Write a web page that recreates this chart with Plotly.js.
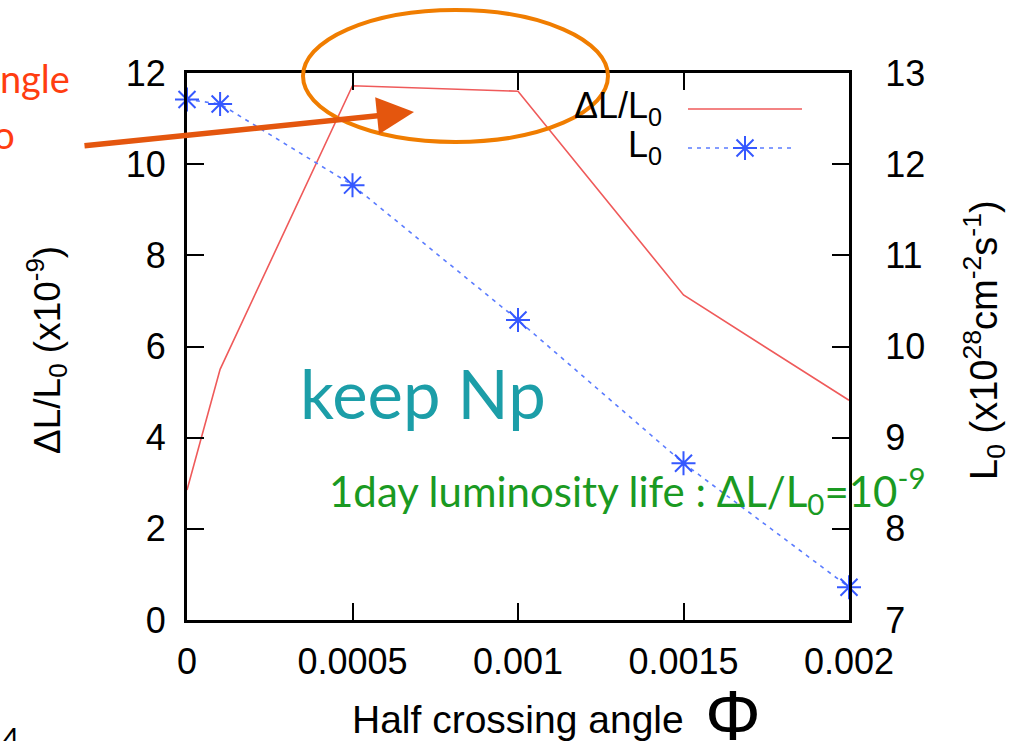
<!DOCTYPE html>
<html>
<head>
<meta charset="utf-8">
<script src="https://cdn.plot.ly/plotly-3.0.1.min.js"></script>
<style>
  html, body { margin: 0; padding: 0; background: #fff; }
  #chart { width: 1026px; height: 741px; }
</style>
</head>
<body>
<div id="chart"></div>
<script>
// Half crossing angle (rad)
const phi = [0, 0.0001, 0.0005, 0.001, 0.0015, 0.002];
// Luminosity loss per turn, ΔL/L0 (x1e-9)
const dLoverL0 = [2.85, 5.5, 11.72, 11.6, 7.13, 4.82];
// Luminosity L0 (x1e28 cm^-2 s^-1)
const L0 = [12.71, 12.66, 11.77, 10.29, 8.72, 7.36];

const xTickVals = [0, 0.0005, 0.001, 0.0015, 0.002];
const xTickText = ['0', '0.0005', '0.001', '0.0015', '0.002'];
const yTickVals = [0, 2, 4, 6, 8, 10, 12];
const y2TickVals = [7, 8, 9, 10, 11, 12, 13];

// plot frame in page pixels
const L = 187, R = 849, T = 73, B = 620;
const PX = x => (x - L) / (R - L);
const PY = y => (B - y) / (B - T);

const sans = 'Liberation Sans, Arial, Helvetica, sans-serif';
const humanist = 'Lato, Noto Sans, sans-serif';
const redLine = '#ef5a5a';
const blueLine = '#5b7cff';
const blueMark = '#3558ff';

const traces = [
  {
    x: phi, y: dLoverL0, type: 'scatter', mode: 'lines',
    line: { color: redLine, width: 1.6 },
    xaxis: 'x', yaxis: 'y', showlegend: false, cliponaxis: false
  },
  {
    x: phi, y: L0, type: 'scatter', mode: 'lines+markers',
    line: { color: blueLine, width: 1.6, dash: '4px,5px' },
    marker: { symbol: 'asterisk-open', size: 20, color: blueMark, line: { color: blueMark, width: 2 } },
    xaxis: 'x', yaxis: 'y2', showlegend: false, cliponaxis: false
  },
  // key samples (overlay axes spanning the plot frame 0..1)
  {
    x: [PX(688), PX(802)], y: [PY(109), PY(109)], type: 'scatter', mode: 'lines',
    line: { color: redLine, width: 1.6 },
    xaxis: 'x2', yaxis: 'y3', showlegend: false, hoverinfo: 'skip', cliponaxis: false
  },
  {
    x: [PX(688), PX(795)], y: [PY(148), PY(148)], type: 'scatter', mode: 'lines',
    line: { color: blueLine, width: 1.6, dash: '4px,5px' },
    xaxis: 'x2', yaxis: 'y3', showlegend: false, hoverinfo: 'skip', cliponaxis: false
  },
  {
    x: [PX(745)], y: [PY(148)], type: 'scatter', mode: 'markers',
    marker: { symbol: 'asterisk-open', size: 20, color: blueMark, line: { color: blueMark, width: 2 } },
    xaxis: 'x2', yaxis: 'y3', showlegend: false, hoverinfo: 'skip', cliponaxis: false
  }
];

const tickFont = { family: sans, size: 36, color: '#000' };

const layout = {
  width: 1026, height: 741,
  margin: { l: L, r: 1026 - R, t: T, b: 741 - B, pad: 0 },
  paper_bgcolor: '#fff', plot_bgcolor: '#fff',
  showlegend: false,
  xaxis: {
    range: [0, 0.002], tickmode: 'array', tickvals: xTickVals, ticktext: xTickText,
    ticks: 'inside', ticklen: 17, tickwidth: 2, tickcolor: '#000',
    showline: true, linecolor: '#000', linewidth: 3, mirror: 'ticks',
    showgrid: false, zeroline: false, tickfont: tickFont, ticklabelstandoff: 8
  },
  yaxis: {
    range: [0, 12], tickmode: 'array', tickvals: yTickVals,
    ticks: 'inside', ticklen: 17, tickwidth: 2, tickcolor: '#000',
    showline: true, linecolor: '#000', linewidth: 3, mirror: true,
    showgrid: false, zeroline: false, tickfont: tickFont, ticklabelstandoff: 11
  },
  yaxis2: {
    range: [7, 13], tickmode: 'array', tickvals: y2TickVals, overlaying: 'y', side: 'right',
    ticks: 'inside', ticklen: 17, tickwidth: 2, tickcolor: '#000',
    showline: true, linecolor: '#000', linewidth: 3,
    showgrid: false, zeroline: false, tickfont: tickFont, ticklabelstandoff: 26
  },
  xaxis2: { range: [0, 1], overlaying: 'x', visible: false, fixedrange: true },
  yaxis3: { range: [0, 1], overlaying: 'y', visible: false, fixedrange: true },
  shapes: [
    {
      type: 'circle', xref: 'paper', yref: 'paper', layer: 'above',
      x0: PX(303), x1: PX(608), y0: PY(142), y1: PY(10),
      line: { color: '#f07d00', width: 4 }
    }
  ],
  annotations: [
    // axis titles
    {
      text: 'ΔL/L<sub>0</sub> (x10<sup>-9</sup>)', textangle: -90,
      xref: 'paper', yref: 'paper', x: PX(47), y: PY(350), xanchor: 'center', yanchor: 'middle',
      showarrow: false, font: { family: sans, size: 37, color: '#000' }
    },
    {
      text: 'L<sub>0</sub> (x10<sup>28</sup>cm<sup>-2</sup>s<sup>-1</sup>)', textangle: -90,
      xref: 'paper', yref: 'paper', x: PX(984), y: PY(340), xanchor: 'center', yanchor: 'middle',
      showarrow: false, font: { family: sans, size: 38, color: '#000' }
    },
    {
      text: 'Half crossing angle',
      xref: 'paper', yref: 'paper', x: PX(518), y: PY(719), xanchor: 'center', yanchor: 'middle',
      showarrow: false, font: { family: sans, size: 39, color: '#000' }
    },
    {
      text: 'Φ',
      xref: 'paper', yref: 'paper', x: PX(733), y: PY(716), xanchor: 'center', yanchor: 'middle',
      showarrow: false, font: { family: sans, size: 70, color: '#000' }
    },
    // key labels
    {
      text: 'ΔL/L<sub>0</sub>',
      xref: 'paper', yref: 'paper', x: PX(664), y: PY(108), xanchor: 'right', yanchor: 'middle',
      showarrow: false, font: { family: sans, size: 36, color: '#000' }
    },
    {
      text: 'L<sub>0</sub>',
      xref: 'paper', yref: 'paper', x: PX(664), y: PY(147), xanchor: 'right', yanchor: 'middle',
      showarrow: false, font: { family: sans, size: 36, color: '#000' }
    },
    // notes on the plot
    {
      text: 'keep Np',
      xref: 'paper', yref: 'paper', x: PX(298), y: PY(393), xanchor: 'left', yanchor: 'middle',
      showarrow: false, font: { family: humanist, size: 67, color: '#1c9ea8' }
    },
    {
      text: '1day luminosity life : ΔL/L<sub>0</sub>=10<sup>-9</sup>',
      xref: 'paper', yref: 'paper', x: PX(327), y: PY(490), xanchor: 'left', yanchor: 'middle',
      showarrow: false, font: { family: humanist, size: 42, color: '#1a9a22' }
    },
    {
      text: 'angle',
      xref: 'paper', yref: 'paper', x: PX(72), y: PY(78), xanchor: 'right', yanchor: 'middle',
      showarrow: false, font: { family: humanist, size: 38, color: '#ff3d10' }
    },
    {
      text: 'Lo',
      xref: 'paper', yref: 'paper', x: PX(17), y: PY(134), xanchor: 'right', yanchor: 'middle',
      showarrow: false, font: { family: humanist, size: 38, color: '#ff3d10' }
    },
    {
      text: '4',
      xref: 'paper', yref: 'paper', x: PX(0), y: PY(738), xanchor: 'left', yanchor: 'middle',
      showarrow: false, font: { family: humanist, size: 30, color: '#000' }
    },
    // pointer to the peak region
    {
      text: '', xref: 'paper', yref: 'paper', x: PX(414), y: PY(112),
      ax: 83 - 414, ay: 146 - 112, axref: 'pixel', ayref: 'pixel',
      showarrow: true, arrowhead: 2, arrowsize: 1.35, arrowwidth: 5.5, arrowcolor: '#e4560e'
    }
  ]
};

Plotly.newPlot('chart', traces, layout, { staticPlot: true, displayModeBar: false });
</script>
</body>
</html>
